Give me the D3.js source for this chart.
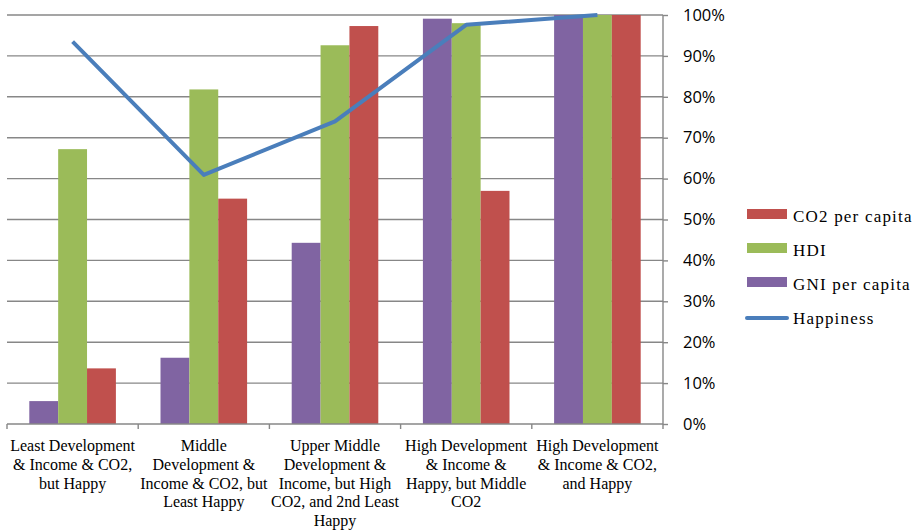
<!DOCTYPE html>
<html><head><meta charset="utf-8">
<script src="https://cdn.jsdelivr.net/npm/d3@7"></script>
<style>body{margin:0;background:#fff}svg{display:block}</style>
</head><body>
<svg id="c" width="919" height="530"></svg>
<script>
const categories = [
  ["Least Development", "& Income & CO2,", "but Happy"],
  ["Middle", "Development &", "Income & CO2, but", "Least Happy"],
  ["Upper Middle", "Development &", "Income, but High", "CO2, and 2nd Least", "Happy"],
  ["High Development", "& Income &", "Happy, but Middle", "CO2"],
  ["High Development", "& Income & CO2,", "and Happy"]
];
const gni = [0.056, 0.162, 0.443, 0.991, 1.0];
const hdi = [0.672, 0.818, 0.926, 0.980, 1.0];
const co2 = [0.136, 0.551, 0.973, 0.570, 1.0];
const happiness = [0.935, 0.609, 0.740, 0.976, 1.0];
const yTicks = [0, 0.1, 0.2, 0.3, 0.4, 0.5, 0.6, 0.7, 0.8, 0.9, 1.0];
const seriesNames = ["GNI per capita", "HDI", "CO2 per capita"];
const legendNames = ["CO2 per capita", "HDI", "GNI per capita", "Happiness"];

const colors = {"GNI per capita":"#8064A2","HDI":"#9BBB59","CO2 per capita":"#C0504D","Happiness":"#4A7EBB"};
const seriesData = {"GNI per capita":gni,"HDI":hdi,"CO2 per capita":co2};

const svg = d3.select("#c");
const L = 7, R = 663, T = 15, B = 424;
const idx = categories.map((d,i)=>i);
const x0 = d3.scaleBand().domain(idx).range([L, R]).padding(0);
const bw = x0.bandwidth();
const x1 = d3.scaleBand().domain(seriesNames).range([bw*0.17, bw*0.83]).padding(0);
const y = d3.scaleLinear().domain([0, 1]).range([B, T]);

// gridlines
svg.append("g").selectAll("line").data(yTicks.filter(t=>t>0)).join("line")
  .attr("x1", L).attr("x2", R).attr("y1", d=>y(d)).attr("y2", d=>y(d))
  .attr("stroke", "#878787").attr("stroke-width", 1.4);

// bars
const g = svg.append("g");
idx.forEach(i=>{
  seriesNames.forEach(s=>{
    g.append("rect")
      .attr("x", x0(i)+x1(s)).attr("width", x1.bandwidth())
      .attr("y", y(seriesData[s][i])).attr("height", B - y(seriesData[s][i]))
      .attr("fill", colors[s]);
  });
});

// right axis
const ra = svg.append("g").attr("transform", `translate(${R},0)`)
  .call(d3.axisRight(y).tickValues(yTicks).tickFormat(d3.format(".0%")).tickSize(5).tickPadding(15));
ra.select(".domain").attr("stroke", "#878787").attr("stroke-width", 1.4).attr("d", `M0,${T}V${B}`);
ra.selectAll(".tick line").attr("stroke", "#878787").attr("stroke-width", 1.4);
ra.selectAll(".tick text").attr("font-family", "'Open Sans', sans-serif").attr("font-size", 16.5).attr("fill", "#000");

// bottom axis
const bottomTicks = idx.concat([idx.length]);
const bx = d => L + d*bw;
svg.append("line").attr("x1", L).attr("x2", R).attr("y1", B).attr("y2", B)
  .attr("stroke", "#878787").attr("stroke-width", 1.4);
svg.append("g").selectAll("line").data(bottomTicks).join("line")
  .attr("x1", bx).attr("x2", bx).attr("y1", B).attr("y2", B+5)
  .attr("stroke", "#878787").attr("stroke-width", 1.4);

// category labels
const lab = svg.append("g").attr("font-family", "'Liberation Serif', 'Times New Roman', serif")
  .attr("font-size", 16).attr("fill", "#000").attr("text-anchor", "middle");
categories.forEach((lines, i)=>{
  const t = lab.append("text").attr("x", x0(i)+bw/2).attr("y", 451);
  lines.forEach((ln, j)=>{
    t.append("tspan").attr("x", x0(i)+bw/2).attr("dy", j===0?0:18.8).text(ln);
  });
});

// happiness line
const line = d3.line().x((d,i)=>x0(i)+bw/2).y(d=>y(d));
svg.append("path").datum(happiness).attr("d", line)
  .attr("fill", "none").attr("stroke", colors["Happiness"]).attr("stroke-width", 4)
  .attr("stroke-linejoin", "round").attr("stroke-linecap", "butt");

// legend
const lg = svg.append("g");
legendNames.forEach((n, i)=>{
  const cy = 214 + i*34;
  if (n === "Happiness") {
    lg.append("line").attr("x1", 747).attr("x2", 787).attr("y1", cy+2).attr("y2", cy+2)
      .attr("stroke", colors[n]).attr("stroke-width", 4).attr("stroke-linecap", "round");
  } else {
    lg.append("rect").attr("x", 747).attr("y", cy-5).attr("width", 40).attr("height", 10).attr("fill", colors[n]);
  }
  lg.append("text").attr("x", 793).attr("y", cy+7.5)
    .attr("font-family", "'Liberation Serif', 'Times New Roman', serif").attr("font-size", 17)
    .attr("letter-spacing", 1.2).attr("fill", "#000").text(n);
});
</script>
</body></html>
